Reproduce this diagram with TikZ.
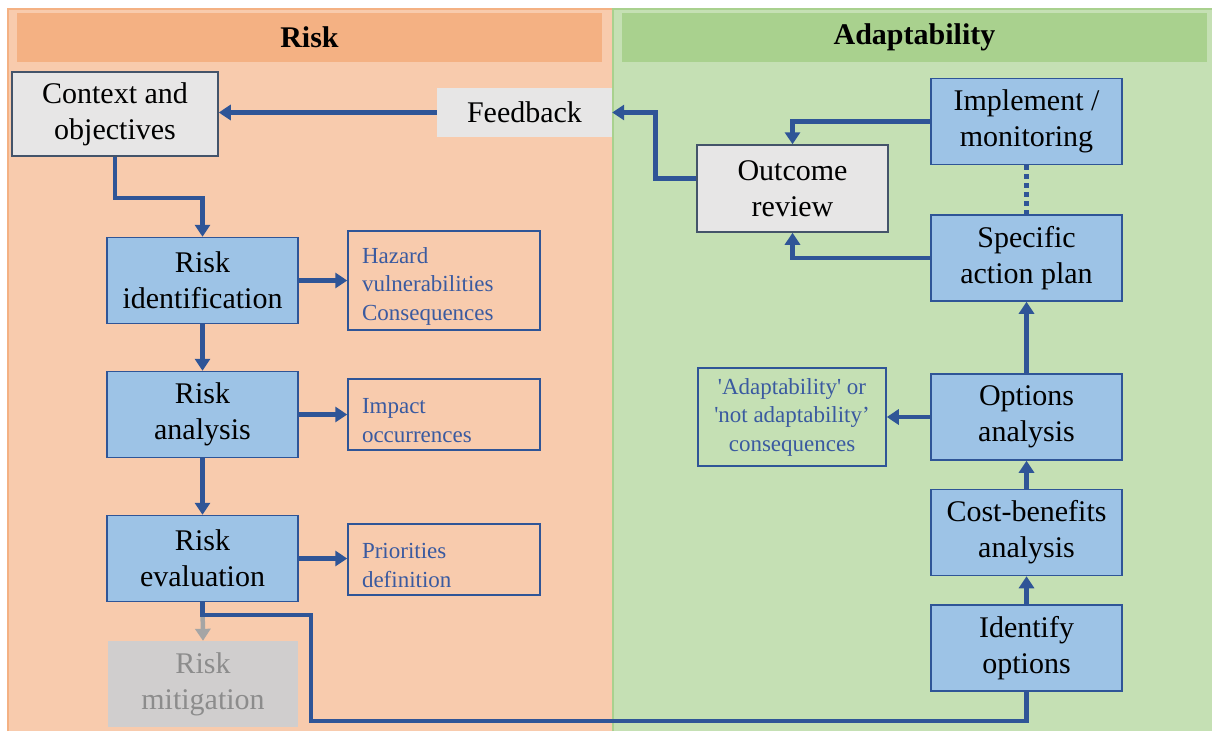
\documentclass[tikz,border=0pt]{standalone}
\usepackage{fontspec}
\setmainfont{Liberation Serif}[Ligatures=TeXOff]
\usetikzlibrary{arrows.meta,calc}
\definecolor{orbg}{HTML}{F8CBAD}
\definecolor{orbar}{HTML}{F4B183}
\definecolor{grbg}{HTML}{C5E0B4}
\definecolor{grbar}{HTML}{A9D18E}
\definecolor{boxblue}{HTML}{9DC3E6}
\definecolor{lineblue}{HTML}{2F5597}
\definecolor{txtblue}{HTML}{3A5AA0}
\definecolor{lgray}{HTML}{E7E6E6}
\definecolor{mgray}{HTML}{D0CECE}
\definecolor{tgray}{HTML}{8C8C8C}
\definecolor{agray}{HTML}{A5A5A5}
\definecolor{ctxline}{HTML}{44546A}
\newcommand\bigtxt{\fontsize{30}{36}\selectfont}
\newcommand\smalltxt{\fontsize{23}{28.5}\selectfont}
\newcommand\lowstrut{\rule{0pt}{27pt}}
\begin{document}
\begin{tikzpicture}[x=1pt,y=-1pt,
  bar/.style={inner sep=0pt, minimum width=585pt, minimum height=49pt, font=\bigtxt\bfseries},
  bluebox/.style={draw=lineblue, fill=boxblue, line width=1.5pt, inner sep=0pt, align=center, font=\bigtxt, minimum width=191pt, minimum height=86pt},
  graybox/.style={draw=ctxline, fill=lgray, line width=1.5pt, inner sep=0pt, align=center, font=\bigtxt},
  notebox/.style={draw=lineblue, line width=1.5pt, inner xsep=14pt, inner ysep=0pt, text width=164pt, align=left, font=\smalltxt, text=txtblue},
  arr/.style={draw=lineblue, line width=4.5pt, -{Triangle[length=12pt,width=15pt]}},
  link/.style={draw=lineblue, line width=4.5pt},
]
\useasboundingbox (0,0) rectangle (1212,731);
\fill[white] (0,0) rectangle (1212,731);
% panels
\fill[orbg] (7,8) rectangle (612,731);
\draw[orbar, line width=1.5pt] (7.75,731) -- (7.75,8.75) -- (612,8.75);
\fill[grbg] (612,8) rectangle (1212,731);
\draw[grbar, line width=1.5pt] (612.75,731) -- (612.75,8.75) -- (1212,8.75);
\node[bar, fill=orbar] (riskbar) at (309.5,37.5) {Risk};
\node[bar, fill=grbar] (adapbar) at (914.5,37.5) {Adaptability};

% left column
\node[graybox, minimum width=206pt, minimum height=84pt] (ctx) at (115,114) {Context and\\objectives};
\node[fill=lgray, inner sep=0pt, minimum width=175pt, minimum height=49pt, font=\bigtxt] (fb) at (524.5,112.5) {Feedback};
\node[bluebox] (ri) at (202.5,280.5) {Risk\\identification};
\node[bluebox] (ra) at (202.5,414.5) {Risk\\analysis};
\node[bluebox] (re) at (202.5,558.5) {Risk\\evaluation};
\node[fill=mgray, text=tgray, inner sep=0pt, align=center, font=\bigtxt, minimum width=190pt, minimum height=86pt] (rm) at (203,684) {Risk\\mitigation};
\node[notebox, minimum height=99pt] (hz) at (444,280.5) {\lowstrut Hazard\\vulnerabilities\\Consequences};
\node[notebox, minimum height=71pt] (im) at (444,414.5) {\lowstrut Impact\\occurrences};
\node[notebox, minimum height=71pt] (pr) at (444,559.5) {\lowstrut Priorities\\definition};

% right column
\node[bluebox] (imp) at (1026.5,121.5) {Implement /\\monitoring};
\node[graybox, minimum width=191pt, minimum height=87pt] (out) at (792.5,188.5) {Outcome\\review};
\node[bluebox] (sap) at (1026.5,258) {Specific\\action plan};
\node[bluebox] (opt) at (1026.5,417) {Options\\analysis};
\node[bluebox] (cba) at (1026.5,532.5) {Cost-benefits\\analysis};
\node[bluebox] (ido) at (1026.5,648) {Identify\\options};
\node[draw=lineblue, line width=1.5pt, inner sep=0pt, align=center, font=\smalltxt, text=txtblue, minimum width=188pt, minimum height=98pt] (adc) at (792,417) {'Adaptability' or\\'not adaptability’\\consequences};

% connectors left
\draw[arr] (fb.west) -- (fb.west -| ctx.east);
\draw[arr] (ctx.south) -- ++(0,41) -| (ri.north);
\draw[arr] (ri.east) -- (hz.west |- ri.east);
\draw[arr] (ri.south) -- (ra.north);
\draw[arr] (ra.east) -- (im.west |- ra.east);
\draw[arr] (ra.south) -- (re.north);
\draw[arr] (re.east) -- (pr.west |- re.east);
\draw[draw=agray, line width=4.5pt, -{Triangle[length=12pt,width=15pt]}] (re.south) -- (rm.north);
\coordinate (k1) at (311,615);
\coordinate (k2) at (311,721);
\draw[link, line join=miter] (re.south) |- (k1) -- (k2) -| (ido.south);

% connectors right
\draw[arr] ([yshift=10pt]out.west) -- ++(-41,0) |- (fb.east);
\draw[arr] (imp.west) -| (out.north);
\draw[arr] (sap.west) -| (out.south);
\draw[draw=lineblue, line width=4.5pt, dash pattern=on 5pt off 4pt] (imp.south) -- (sap.north);
\draw[arr] (opt.north) -- (sap.south);
\draw[arr] (cba.north) -- (opt.south);
\draw[arr] (ido.north) -- (cba.south);
\draw[arr] (opt.west) -- (adc.east);
\end{tikzpicture}
\end{document}
